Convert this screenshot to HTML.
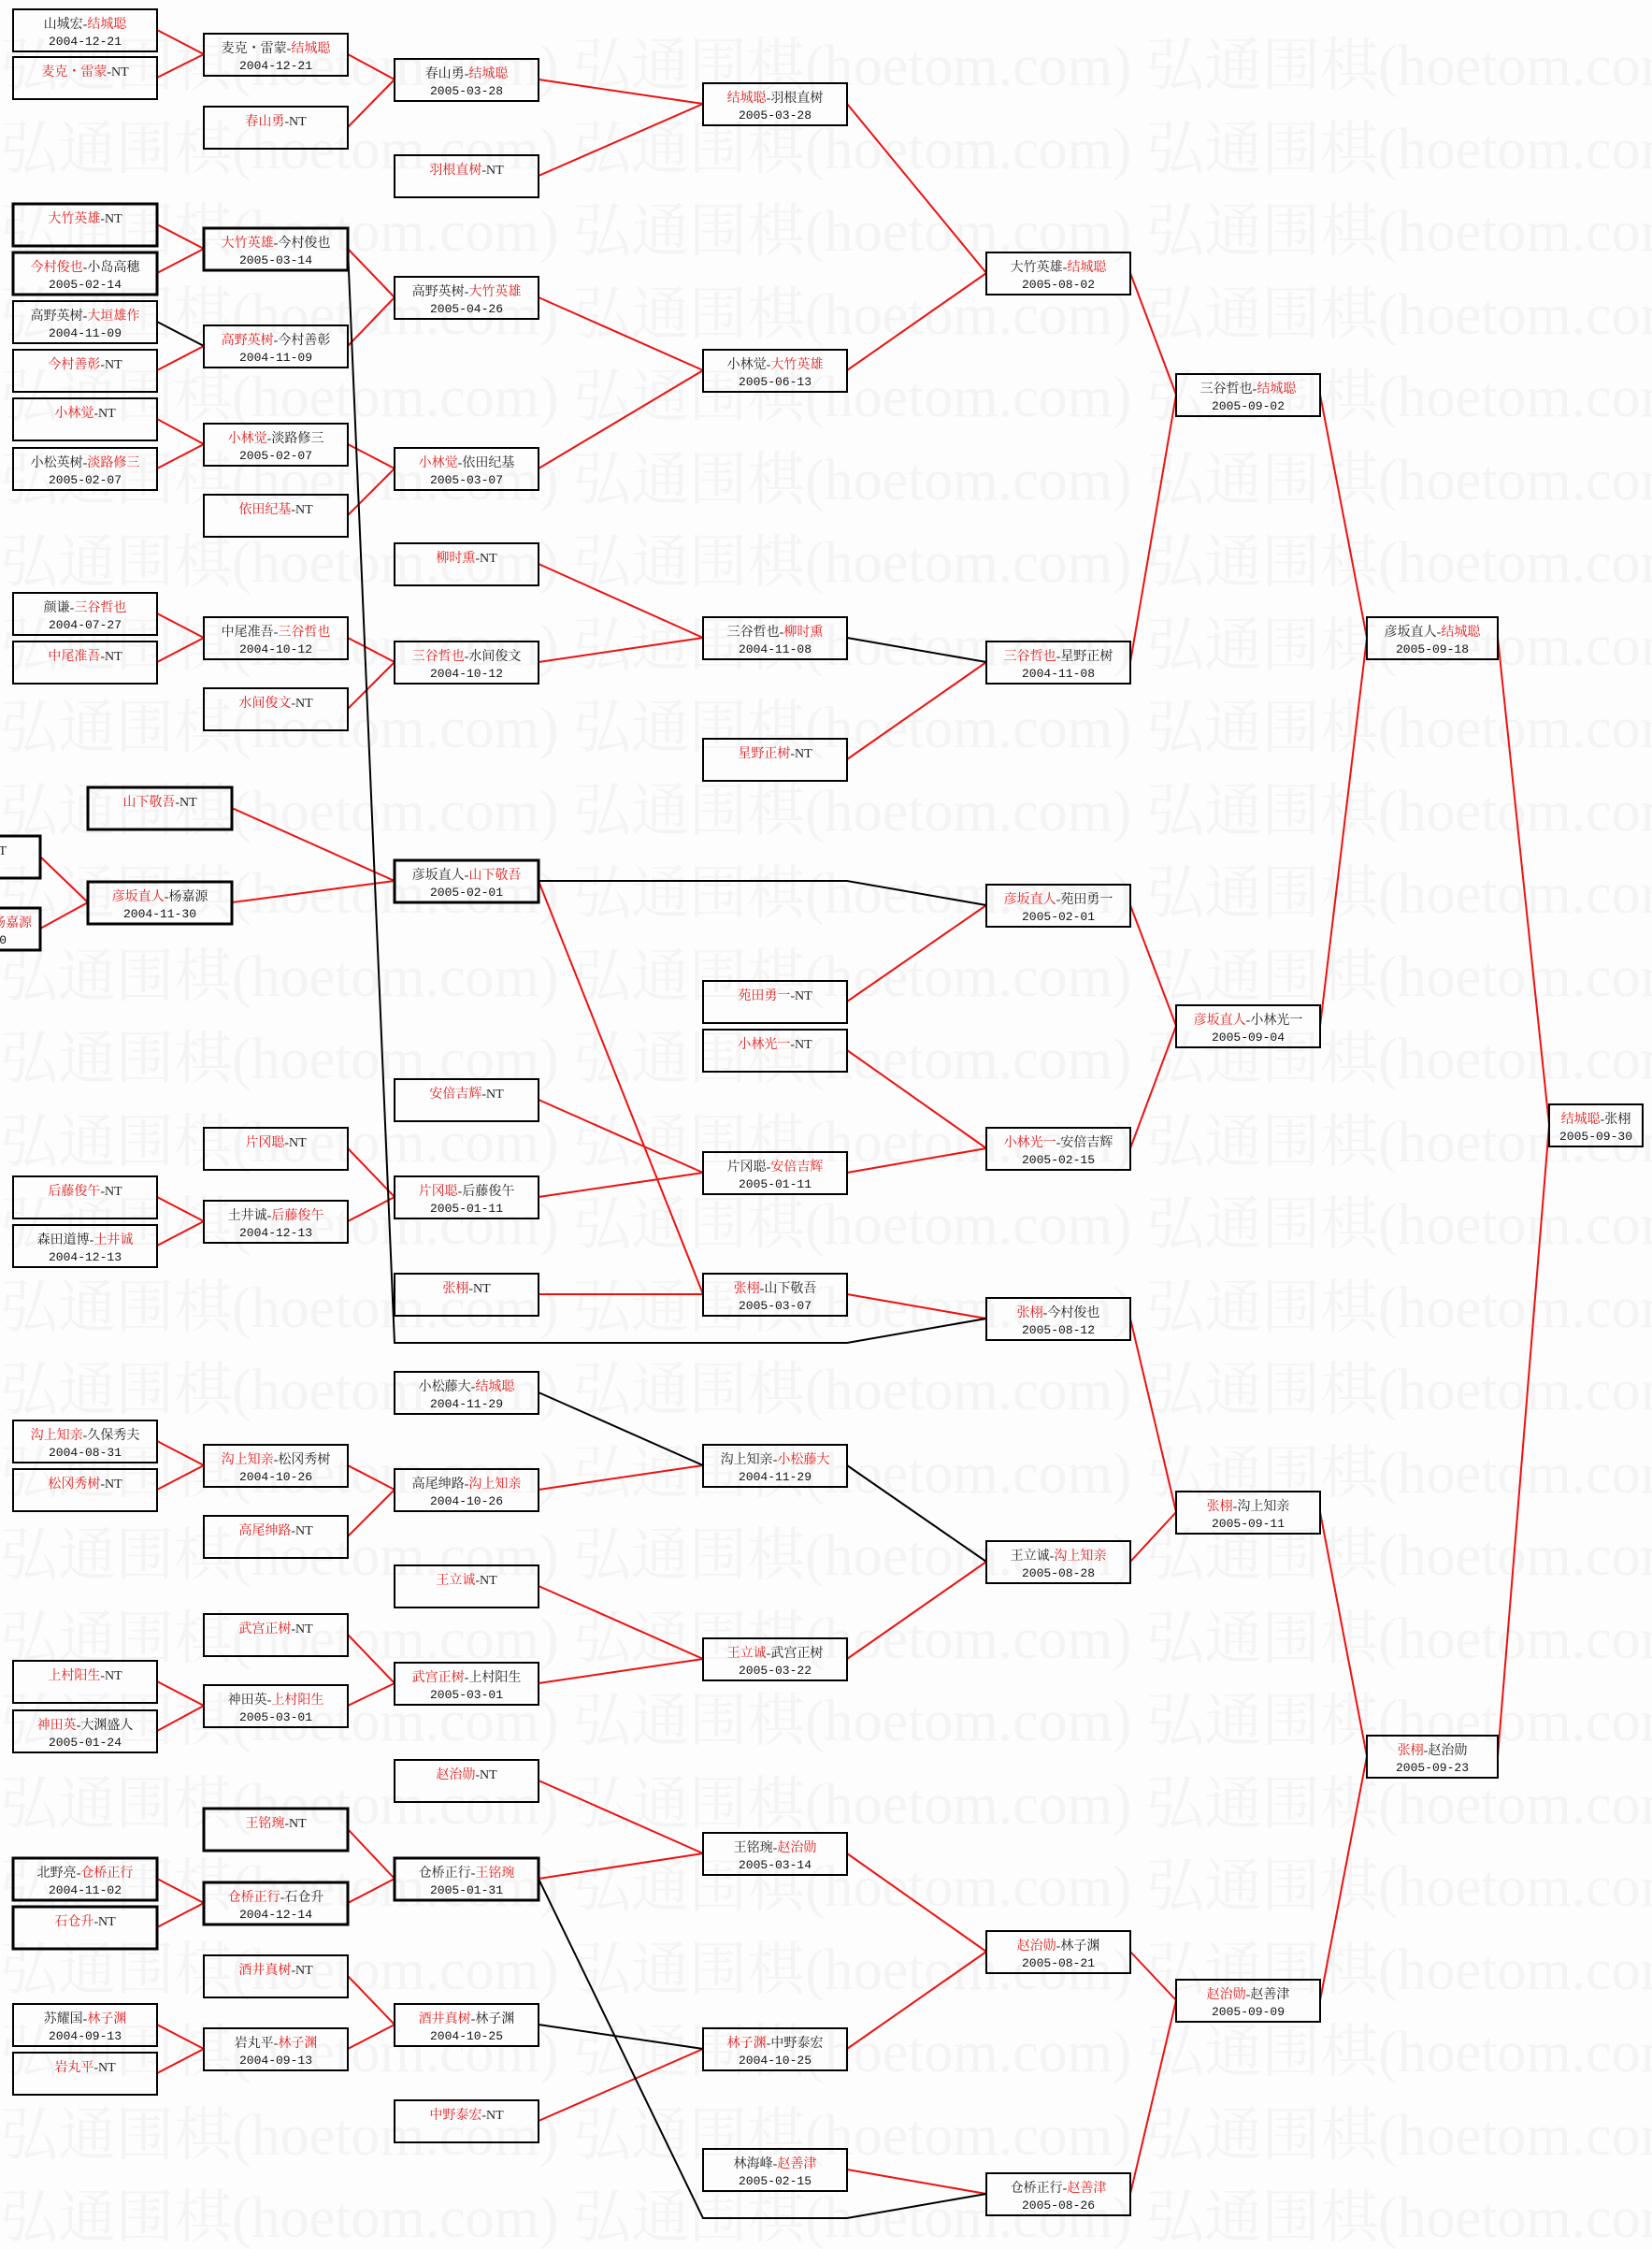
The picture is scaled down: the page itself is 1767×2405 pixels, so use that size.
<!DOCTYPE html>
<html><head><meta charset="utf-8">
<style>
html,body{margin:0;padding:0;background:#fdfdfd;}
svg{display:block;}
.wm{font-family:"Liberation Serif","Noto Serif CJK SC",serif;font-size:62px;fill:#f4f4f4;}
.b{fill:none;stroke:#000;stroke-width:2;}
.k{fill:none;stroke:#000;stroke-width:3;}
.n{font-family:"Liberation Serif","Noto Serif CJK SC",serif;font-size:14px;fill:#222;text-anchor:middle;}
.d{font-family:"Liberation Mono",monospace;font-size:13px;fill:#111;text-anchor:middle;}
.e{text-anchor:end;}
.r{fill:#e31b1b;}
.lr{stroke:#ee1111;stroke-width:2;fill:none;}
.lb{stroke:#000;stroke-width:2;fill:none;}
</style></head><body>
<svg width="1767" height="2405" xmlns="http://www.w3.org/2000/svg">
<g class="wm">
<text x="0" y="91">弘通围棋(hoetom.com) 弘通围棋(hoetom.com) 弘通围棋(hoetom.com)</text>
<text x="0" y="180">弘通围棋(hoetom.com) 弘通围棋(hoetom.com) 弘通围棋(hoetom.com)</text>
<text x="0" y="268">弘通围棋(hoetom.com) 弘通围棋(hoetom.com) 弘通围棋(hoetom.com)</text>
<text x="0" y="357">弘通围棋(hoetom.com) 弘通围棋(hoetom.com) 弘通围棋(hoetom.com)</text>
<text x="0" y="445">弘通围棋(hoetom.com) 弘通围棋(hoetom.com) 弘通围棋(hoetom.com)</text>
<text x="0" y="534">弘通围棋(hoetom.com) 弘通围棋(hoetom.com) 弘通围棋(hoetom.com)</text>
<text x="0" y="622">弘通围棋(hoetom.com) 弘通围棋(hoetom.com) 弘通围棋(hoetom.com)</text>
<text x="0" y="711">弘通围棋(hoetom.com) 弘通围棋(hoetom.com) 弘通围棋(hoetom.com)</text>
<text x="0" y="799">弘通围棋(hoetom.com) 弘通围棋(hoetom.com) 弘通围棋(hoetom.com)</text>
<text x="0" y="888">弘通围棋(hoetom.com) 弘通围棋(hoetom.com) 弘通围棋(hoetom.com)</text>
<text x="0" y="976">弘通围棋(hoetom.com) 弘通围棋(hoetom.com) 弘通围棋(hoetom.com)</text>
<text x="0" y="1065">弘通围棋(hoetom.com) 弘通围棋(hoetom.com) 弘通围棋(hoetom.com)</text>
<text x="0" y="1153">弘通围棋(hoetom.com) 弘通围棋(hoetom.com) 弘通围棋(hoetom.com)</text>
<text x="0" y="1242">弘通围棋(hoetom.com) 弘通围棋(hoetom.com) 弘通围棋(hoetom.com)</text>
<text x="0" y="1330">弘通围棋(hoetom.com) 弘通围棋(hoetom.com) 弘通围棋(hoetom.com)</text>
<text x="0" y="1419">弘通围棋(hoetom.com) 弘通围棋(hoetom.com) 弘通围棋(hoetom.com)</text>
<text x="0" y="1507">弘通围棋(hoetom.com) 弘通围棋(hoetom.com) 弘通围棋(hoetom.com)</text>
<text x="0" y="1596">弘通围棋(hoetom.com) 弘通围棋(hoetom.com) 弘通围棋(hoetom.com)</text>
<text x="0" y="1684">弘通围棋(hoetom.com) 弘通围棋(hoetom.com) 弘通围棋(hoetom.com)</text>
<text x="0" y="1773">弘通围棋(hoetom.com) 弘通围棋(hoetom.com) 弘通围棋(hoetom.com)</text>
<text x="0" y="1861">弘通围棋(hoetom.com) 弘通围棋(hoetom.com) 弘通围棋(hoetom.com)</text>
<text x="0" y="1950">弘通围棋(hoetom.com) 弘通围棋(hoetom.com) 弘通围棋(hoetom.com)</text>
<text x="0" y="2038">弘通围棋(hoetom.com) 弘通围棋(hoetom.com) 弘通围棋(hoetom.com)</text>
<text x="0" y="2127">弘通围棋(hoetom.com) 弘通围棋(hoetom.com) 弘通围棋(hoetom.com)</text>
<text x="0" y="2215">弘通围棋(hoetom.com) 弘通围棋(hoetom.com) 弘通围棋(hoetom.com)</text>
<text x="0" y="2304">弘通围棋(hoetom.com) 弘通围棋(hoetom.com) 弘通围棋(hoetom.com)</text>
<text x="0" y="2392">弘通围棋(hoetom.com) 弘通围棋(hoetom.com) 弘通围棋(hoetom.com)</text>
</g>

<g class="lr">
<line x1="168" y1="32" x2="218" y2="58"/><line x1="168" y1="83" x2="218" y2="58"/>
<line x1="168" y1="240" x2="218" y2="266"/><line x1="168" y1="292" x2="218" y2="266"/>
<line x1="168" y1="396" x2="218" y2="370"/>
<line x1="168" y1="448" x2="218" y2="475"/><line x1="168" y1="501" x2="218" y2="475"/>
<line x1="168" y1="656" x2="218" y2="682"/><line x1="168" y1="708" x2="218" y2="682"/>
<line x1="43" y1="916" x2="94" y2="965"/><line x1="43" y1="993" x2="94" y2="965"/>
<line x1="168" y1="1280" x2="218" y2="1306"/><line x1="168" y1="1332" x2="218" y2="1306"/>
<line x1="168" y1="1541" x2="218" y2="1567"/><line x1="168" y1="1593" x2="218" y2="1567"/>
<line x1="168" y1="1798" x2="218" y2="1824"/><line x1="168" y1="1851" x2="218" y2="1824"/>
<line x1="168" y1="2009" x2="218" y2="2035"/><line x1="168" y1="2061" x2="218" y2="2035"/>
<line x1="168" y1="2165" x2="218" y2="2191"/><line x1="168" y1="2217" x2="218" y2="2191"/>

<line x1="372" y1="58" x2="422" y2="85"/><line x1="372" y1="136" x2="422" y2="85"/>
<line x1="372" y1="266" x2="422" y2="318"/><line x1="372" y1="370" x2="422" y2="318"/>
<line x1="372" y1="475" x2="422" y2="501"/><line x1="372" y1="551" x2="422" y2="501"/>
<line x1="372" y1="682" x2="422" y2="708"/><line x1="372" y1="758" x2="422" y2="708"/>
<line x1="248" y1="864" x2="422" y2="942"/><line x1="248" y1="965" x2="422" y2="942"/>
<line x1="372" y1="1228" x2="422" y2="1280"/><line x1="372" y1="1306" x2="422" y2="1280"/>
<line x1="372" y1="1567" x2="422" y2="1593"/><line x1="372" y1="1643" x2="422" y2="1593"/>
<line x1="372" y1="1748" x2="422" y2="1800"/><line x1="372" y1="1824" x2="422" y2="1800"/>
<line x1="372" y1="1956" x2="422" y2="2009"/><line x1="372" y1="2035" x2="422" y2="2009"/>
<line x1="372" y1="2113" x2="422" y2="2165"/><line x1="372" y1="2191" x2="422" y2="2165"/>

<line x1="576" y1="85" x2="752" y2="111"/><line x1="576" y1="188" x2="752" y2="111"/>
<line x1="576" y1="318" x2="752" y2="396"/><line x1="576" y1="501" x2="752" y2="396"/>
<line x1="576" y1="603" x2="752" y2="682"/><line x1="576" y1="708" x2="752" y2="682"/>
<line x1="576" y1="942" x2="752" y2="1384"/><line x1="576" y1="1384" x2="752" y2="1384"/>
<line x1="576" y1="1176" x2="752" y2="1254"/><line x1="576" y1="1280" x2="752" y2="1254"/>
<line x1="576" y1="1593" x2="752" y2="1567"/>
<line x1="576" y1="1696" x2="752" y2="1774"/><line x1="576" y1="1800" x2="752" y2="1774"/>
<line x1="576" y1="1904" x2="752" y2="1982"/><line x1="576" y1="2009" x2="752" y2="1982"/>
<line x1="576" y1="2268" x2="752" y2="2191"/>

<line x1="906" y1="111" x2="1055" y2="292"/><line x1="906" y1="396" x2="1055" y2="292"/>
<line x1="906" y1="812" x2="1055" y2="708"/>
<line x1="906" y1="1071" x2="1055" y2="968"/>
<line x1="906" y1="1123" x2="1055" y2="1228"/><line x1="906" y1="1254" x2="1055" y2="1228"/>
<line x1="906" y1="1384" x2="1055" y2="1410"/>
<line x1="906" y1="1774" x2="1055" y2="1670"/>
<line x1="906" y1="1982" x2="1055" y2="2087"/><line x1="906" y1="2191" x2="1055" y2="2087"/>
<line x1="906" y1="2320" x2="1055" y2="2346"/>

<line x1="1209" y1="292" x2="1258" y2="422"/><line x1="1209" y1="708" x2="1258" y2="422"/>
<line x1="1209" y1="968" x2="1258" y2="1097"/><line x1="1209" y1="1228" x2="1258" y2="1097"/>
<line x1="1209" y1="1410" x2="1258" y2="1617"/><line x1="1209" y1="1670" x2="1258" y2="1617"/>
<line x1="1209" y1="2087" x2="1258" y2="2139"/><line x1="1209" y1="2346" x2="1258" y2="2139"/>

<line x1="1412" y1="422" x2="1462" y2="682"/><line x1="1412" y1="1097" x2="1462" y2="682"/>
<line x1="1412" y1="1617" x2="1462" y2="1878"/><line x1="1412" y1="2139" x2="1462" y2="1878"/>
<line x1="1602" y1="682" x2="1657" y2="1203"/><line x1="1602" y1="1878" x2="1657" y2="1203"/>
</g>
<g class="lb">
<line x1="168" y1="344" x2="218" y2="370"/>
<polyline points="372,266 422,1436 906,1436 1055,1410"/>
<polyline points="576,942 906,942 1055,968"/>
<line x1="576" y1="1489" x2="752" y2="1567"/>
<polyline points="576,2009 752,2372 906,2372 1055,2346"/>
<line x1="576" y1="2165" x2="752" y2="2191"/>
<line x1="906" y1="682" x2="1055" y2="708"/>
<line x1="906" y1="1567" x2="1055" y2="1670"/>
</g>

<g>
<rect class="b" x="14" y="10" width="154" height="45"/><text class="n" x="91" y="30">山城宏-<tspan class="r">结城聪</tspan></text><text class="d" x="91" y="48">2004-12-21</text>
<rect class="b" x="14" y="61" width="154" height="45"/><text class="n" x="91" y="81"><tspan class="r">麦克・雷蒙</tspan>-NT</text>
<rect class="k" x="14" y="218" width="154" height="45"/><text class="n" x="91" y="238"><tspan class="r">大竹英雄</tspan>-NT</text>
<rect class="k" x="14" y="270" width="154" height="45"/><text class="n" x="91" y="290"><tspan class="r">今村俊也</tspan>-小岛高穗</text><text class="d" x="91" y="308">2005-02-14</text>
<rect class="b" x="14" y="322" width="154" height="45"/><text class="n" x="91" y="342">高野英树-<tspan class="r">大垣雄作</tspan></text><text class="d" x="91" y="360">2004-11-09</text>
<rect class="b" x="14" y="374" width="154" height="45"/><text class="n" x="91" y="394"><tspan class="r">今村善彰</tspan>-NT</text>
<rect class="b" x="14" y="426" width="154" height="45"/><text class="n" x="91" y="446"><tspan class="r">小林觉</tspan>-NT</text>
<rect class="b" x="14" y="479" width="154" height="45"/><text class="n" x="91" y="499">小松英树-<tspan class="r">淡路修三</tspan></text><text class="d" x="91" y="517">2005-02-07</text>
<rect class="b" x="14" y="634" width="154" height="45"/><text class="n" x="91" y="654">颜谦-<tspan class="r">三谷哲也</tspan></text><text class="d" x="91" y="672">2004-07-27</text>
<rect class="b" x="14" y="686" width="154" height="45"/><text class="n" x="91" y="706"><tspan class="r">中尾准吾</tspan>-NT</text>
<rect class="k" x="-111" y="894" width="154" height="45"/><text class="n e" x="7" y="914"><tspan class="r">彦坂直人</tspan>-NT</text>
<rect class="k" x="-111" y="971" width="154" height="45"/><text class="n e" x="34" y="991">彦坂直人-<tspan class="r">杨嘉源</tspan></text><text class="d e" x="7" y="1009">2004-11-20</text>
<rect class="b" x="14" y="1258" width="154" height="45"/><text class="n" x="91" y="1278"><tspan class="r">后藤俊午</tspan>-NT</text>
<rect class="b" x="14" y="1310" width="154" height="45"/><text class="n" x="91" y="1330">森田道博-<tspan class="r">土井诚</tspan></text><text class="d" x="91" y="1348">2004-12-13</text>
<rect class="b" x="14" y="1519" width="154" height="45"/><text class="n" x="91" y="1539"><tspan class="r">沟上知亲</tspan>-久保秀夫</text><text class="d" x="91" y="1557">2004-08-31</text>
<rect class="b" x="14" y="1571" width="154" height="45"/><text class="n" x="91" y="1591"><tspan class="r">松冈秀树</tspan>-NT</text>
<rect class="b" x="14" y="1776" width="154" height="45"/><text class="n" x="91" y="1796"><tspan class="r">上村阳生</tspan>-NT</text>
<rect class="b" x="14" y="1829" width="154" height="45"/><text class="n" x="91" y="1849"><tspan class="r">神田英</tspan>-大渊盛人</text><text class="d" x="91" y="1867">2005-01-24</text>
<rect class="k" x="14" y="1987" width="154" height="45"/><text class="n" x="91" y="2007">北野亮-<tspan class="r">仓桥正行</tspan></text><text class="d" x="91" y="2025">2004-11-02</text>
<rect class="k" x="14" y="2039" width="154" height="45"/><text class="n" x="91" y="2059"><tspan class="r">石仓升</tspan>-NT</text>
<rect class="b" x="14" y="2143" width="154" height="45"/><text class="n" x="91" y="2163">苏耀国-<tspan class="r">林子渊</tspan></text><text class="d" x="91" y="2181">2004-09-13</text>
<rect class="b" x="14" y="2195" width="154" height="45"/><text class="n" x="91" y="2215"><tspan class="r">岩丸平</tspan>-NT</text>

<rect class="k" x="94" y="842" width="154" height="45"/><text class="n" x="171" y="862"><tspan class="r">山下敬吾</tspan>-NT</text>
<rect class="k" x="94" y="943" width="154" height="45"/><text class="n" x="171" y="963"><tspan class="r">彦坂直人</tspan>-杨嘉源</text><text class="d" x="171" y="981">2004-11-30</text>

<rect class="b" x="218" y="36" width="154" height="45"/><text class="n" x="295" y="56">麦克・雷蒙-<tspan class="r">结城聪</tspan></text><text class="d" x="295" y="74">2004-12-21</text>
<rect class="b" x="218" y="114" width="154" height="45"/><text class="n" x="295" y="134"><tspan class="r">春山勇</tspan>-NT</text>
<rect class="k" x="218" y="244" width="154" height="45"/><text class="n" x="295" y="264"><tspan class="r">大竹英雄</tspan>-今村俊也</text><text class="d" x="295" y="282">2005-03-14</text>
<rect class="b" x="218" y="348" width="154" height="45"/><text class="n" x="295" y="368"><tspan class="r">高野英树</tspan>-今村善彰</text><text class="d" x="295" y="386">2004-11-09</text>
<rect class="b" x="218" y="453" width="154" height="45"/><text class="n" x="295" y="473"><tspan class="r">小林觉</tspan>-淡路修三</text><text class="d" x="295" y="491">2005-02-07</text>
<rect class="b" x="218" y="529" width="154" height="45"/><text class="n" x="295" y="549"><tspan class="r">依田纪基</tspan>-NT</text>
<rect class="b" x="218" y="660" width="154" height="45"/><text class="n" x="295" y="680">中尾准吾-<tspan class="r">三谷哲也</tspan></text><text class="d" x="295" y="698">2004-10-12</text>
<rect class="b" x="218" y="736" width="154" height="45"/><text class="n" x="295" y="756"><tspan class="r">水间俊文</tspan>-NT</text>
<rect class="b" x="218" y="1206" width="154" height="45"/><text class="n" x="295" y="1226"><tspan class="r">片冈聪</tspan>-NT</text>
<rect class="b" x="218" y="1284" width="154" height="45"/><text class="n" x="295" y="1304">土井诚-<tspan class="r">后藤俊午</tspan></text><text class="d" x="295" y="1322">2004-12-13</text>
<rect class="b" x="218" y="1545" width="154" height="45"/><text class="n" x="295" y="1565"><tspan class="r">沟上知亲</tspan>-松冈秀树</text><text class="d" x="295" y="1583">2004-10-26</text>
<rect class="b" x="218" y="1621" width="154" height="45"/><text class="n" x="295" y="1641"><tspan class="r">高尾绅路</tspan>-NT</text>
<rect class="b" x="218" y="1726" width="154" height="45"/><text class="n" x="295" y="1746"><tspan class="r">武宫正树</tspan>-NT</text>
<rect class="b" x="218" y="1802" width="154" height="45"/><text class="n" x="295" y="1822">神田英-<tspan class="r">上村阳生</tspan></text><text class="d" x="295" y="1840">2005-03-01</text>
<rect class="k" x="218" y="1934" width="154" height="45"/><text class="n" x="295" y="1954"><tspan class="r">王铭琬</tspan>-NT</text>
<rect class="k" x="218" y="2013" width="154" height="45"/><text class="n" x="295" y="2033"><tspan class="r">仓桥正行</tspan>-石仓升</text><text class="d" x="295" y="2051">2004-12-14</text>
<rect class="b" x="218" y="2091" width="154" height="45"/><text class="n" x="295" y="2111"><tspan class="r">酒井真树</tspan>-NT</text>
<rect class="b" x="218" y="2169" width="154" height="45"/><text class="n" x="295" y="2189">岩丸平-<tspan class="r">林子渊</tspan></text><text class="d" x="295" y="2207">2004-09-13</text>

<rect class="b" x="422" y="63" width="154" height="45"/><text class="n" x="499" y="83">春山勇-<tspan class="r">结城聪</tspan></text><text class="d" x="499" y="101">2005-03-28</text>
<rect class="b" x="422" y="166" width="154" height="45"/><text class="n" x="499" y="186"><tspan class="r">羽根直树</tspan>-NT</text>
<rect class="b" x="422" y="296" width="154" height="45"/><text class="n" x="499" y="316">高野英树-<tspan class="r">大竹英雄</tspan></text><text class="d" x="499" y="334">2005-04-26</text>
<rect class="b" x="422" y="479" width="154" height="45"/><text class="n" x="499" y="499"><tspan class="r">小林觉</tspan>-依田纪基</text><text class="d" x="499" y="517">2005-03-07</text>
<rect class="b" x="422" y="581" width="154" height="45"/><text class="n" x="499" y="601"><tspan class="r">柳时熏</tspan>-NT</text>
<rect class="b" x="422" y="686" width="154" height="45"/><text class="n" x="499" y="706"><tspan class="r">三谷哲也</tspan>-水间俊文</text><text class="d" x="499" y="724">2004-10-12</text>
<rect class="k" x="422" y="920" width="154" height="45"/><text class="n" x="499" y="940">彦坂直人-<tspan class="r">山下敬吾</tspan></text><text class="d" x="499" y="958">2005-02-01</text>
<rect class="b" x="422" y="1154" width="154" height="45"/><text class="n" x="499" y="1174"><tspan class="r">安倍吉辉</tspan>-NT</text>
<rect class="b" x="422" y="1258" width="154" height="45"/><text class="n" x="499" y="1278"><tspan class="r">片冈聪</tspan>-后藤俊午</text><text class="d" x="499" y="1296">2005-01-11</text>
<rect class="b" x="422" y="1362" width="154" height="45"/><text class="n" x="499" y="1382"><tspan class="r">张栩</tspan>-NT</text>
<rect class="b" x="422" y="1467" width="154" height="45"/><text class="n" x="499" y="1487">小松藤大-<tspan class="r">结城聪</tspan></text><text class="d" x="499" y="1505">2004-11-29</text>
<rect class="b" x="422" y="1571" width="154" height="45"/><text class="n" x="499" y="1591">高尾绅路-<tspan class="r">沟上知亲</tspan></text><text class="d" x="499" y="1609">2004-10-26</text>
<rect class="b" x="422" y="1674" width="154" height="45"/><text class="n" x="499" y="1694"><tspan class="r">王立诚</tspan>-NT</text>
<rect class="b" x="422" y="1778" width="154" height="45"/><text class="n" x="499" y="1798"><tspan class="r">武宫正树</tspan>-上村阳生</text><text class="d" x="499" y="1816">2005-03-01</text>
<rect class="b" x="422" y="1882" width="154" height="45"/><text class="n" x="499" y="1902"><tspan class="r">赵治勋</tspan>-NT</text>
<rect class="k" x="422" y="1987" width="154" height="45"/><text class="n" x="499" y="2007">仓桥正行-<tspan class="r">王铭琬</tspan></text><text class="d" x="499" y="2025">2005-01-31</text>
<rect class="b" x="422" y="2143" width="154" height="45"/><text class="n" x="499" y="2163"><tspan class="r">酒井真树</tspan>-林子渊</text><text class="d" x="499" y="2181">2004-10-25</text>
<rect class="b" x="422" y="2246" width="154" height="45"/><text class="n" x="499" y="2266"><tspan class="r">中野泰宏</tspan>-NT</text>

<rect class="b" x="752" y="89" width="154" height="45"/><text class="n" x="829" y="109"><tspan class="r">结城聪</tspan>-羽根直树</text><text class="d" x="829" y="127">2005-03-28</text>
<rect class="b" x="752" y="374" width="154" height="45"/><text class="n" x="829" y="394">小林觉-<tspan class="r">大竹英雄</tspan></text><text class="d" x="829" y="412">2005-06-13</text>
<rect class="b" x="752" y="660" width="154" height="45"/><text class="n" x="829" y="680">三谷哲也-<tspan class="r">柳时熏</tspan></text><text class="d" x="829" y="698">2004-11-08</text>
<rect class="b" x="752" y="790" width="154" height="45"/><text class="n" x="829" y="810"><tspan class="r">星野正树</tspan>-NT</text>
<rect class="b" x="752" y="1049" width="154" height="45"/><text class="n" x="829" y="1069"><tspan class="r">苑田勇一</tspan>-NT</text>
<rect class="b" x="752" y="1101" width="154" height="45"/><text class="n" x="829" y="1121"><tspan class="r">小林光一</tspan>-NT</text>
<rect class="b" x="752" y="1232" width="154" height="45"/><text class="n" x="829" y="1252">片冈聪-<tspan class="r">安倍吉辉</tspan></text><text class="d" x="829" y="1270">2005-01-11</text>
<rect class="b" x="752" y="1362" width="154" height="45"/><text class="n" x="829" y="1382"><tspan class="r">张栩</tspan>-山下敬吾</text><text class="d" x="829" y="1400">2005-03-07</text>
<rect class="b" x="752" y="1545" width="154" height="45"/><text class="n" x="829" y="1565">沟上知亲-<tspan class="r">小松藤大</tspan></text><text class="d" x="829" y="1583">2004-11-29</text>
<rect class="b" x="752" y="1752" width="154" height="45"/><text class="n" x="829" y="1772"><tspan class="r">王立诚</tspan>-武宫正树</text><text class="d" x="829" y="1790">2005-03-22</text>
<rect class="b" x="752" y="1960" width="154" height="45"/><text class="n" x="829" y="1980">王铭琬-<tspan class="r">赵治勋</tspan></text><text class="d" x="829" y="1998">2005-03-14</text>
<rect class="b" x="752" y="2169" width="154" height="45"/><text class="n" x="829" y="2189"><tspan class="r">林子渊</tspan>-中野泰宏</text><text class="d" x="829" y="2207">2004-10-25</text>
<rect class="b" x="752" y="2298" width="154" height="45"/><text class="n" x="829" y="2318">林海峰-<tspan class="r">赵善津</tspan></text><text class="d" x="829" y="2336">2005-02-15</text>

<rect class="b" x="1055" y="270" width="154" height="45"/><text class="n" x="1132" y="290">大竹英雄-<tspan class="r">结城聪</tspan></text><text class="d" x="1132" y="308">2005-08-02</text>
<rect class="b" x="1055" y="686" width="154" height="45"/><text class="n" x="1132" y="706"><tspan class="r">三谷哲也</tspan>-星野正树</text><text class="d" x="1132" y="724">2004-11-08</text>
<rect class="b" x="1055" y="946" width="154" height="45"/><text class="n" x="1132" y="966"><tspan class="r">彦坂直人</tspan>-苑田勇一</text><text class="d" x="1132" y="984">2005-02-01</text>
<rect class="b" x="1055" y="1206" width="154" height="45"/><text class="n" x="1132" y="1226"><tspan class="r">小林光一</tspan>-安倍吉辉</text><text class="d" x="1132" y="1244">2005-02-15</text>
<rect class="b" x="1055" y="1388" width="154" height="45"/><text class="n" x="1132" y="1408"><tspan class="r">张栩</tspan>-今村俊也</text><text class="d" x="1132" y="1426">2005-08-12</text>
<rect class="b" x="1055" y="1648" width="154" height="45"/><text class="n" x="1132" y="1668">王立诚-<tspan class="r">沟上知亲</tspan></text><text class="d" x="1132" y="1686">2005-08-28</text>
<rect class="b" x="1055" y="2065" width="154" height="45"/><text class="n" x="1132" y="2085"><tspan class="r">赵治勋</tspan>-林子渊</text><text class="d" x="1132" y="2103">2005-08-21</text>
<rect class="b" x="1055" y="2324" width="154" height="45"/><text class="n" x="1132" y="2344">仓桥正行-<tspan class="r">赵善津</tspan></text><text class="d" x="1132" y="2362">2005-08-26</text>

<rect class="b" x="1258" y="400" width="154" height="45"/><text class="n" x="1335" y="420">三谷哲也-<tspan class="r">结城聪</tspan></text><text class="d" x="1335" y="438">2005-09-02</text>
<rect class="b" x="1258" y="1075" width="154" height="45"/><text class="n" x="1335" y="1095"><tspan class="r">彦坂直人</tspan>-小林光一</text><text class="d" x="1335" y="1113">2005-09-04</text>
<rect class="b" x="1258" y="1595" width="154" height="45"/><text class="n" x="1335" y="1615"><tspan class="r">张栩</tspan>-沟上知亲</text><text class="d" x="1335" y="1633">2005-09-11</text>
<rect class="b" x="1258" y="2117" width="154" height="45"/><text class="n" x="1335" y="2137"><tspan class="r">赵治勋</tspan>-赵善津</text><text class="d" x="1335" y="2155">2005-09-09</text>

<rect class="b" x="1462" y="660" width="140" height="45"/><text class="n" x="1532" y="680">彦坂直人-<tspan class="r">结城聪</tspan></text><text class="d" x="1532" y="698">2005-09-18</text>
<rect class="b" x="1462" y="1856" width="140" height="45"/><text class="n" x="1532" y="1876"><tspan class="r">张栩</tspan>-赵治勋</text><text class="d" x="1532" y="1894">2005-09-23</text>

<rect class="b" x="1657" y="1181" width="100" height="45"/><text class="n" x="1707" y="1201"><tspan class="r">结城聪</tspan>-张栩</text><text class="d" x="1707" y="1219">2005-09-30</text>
</g>
</svg>
</body></html>
